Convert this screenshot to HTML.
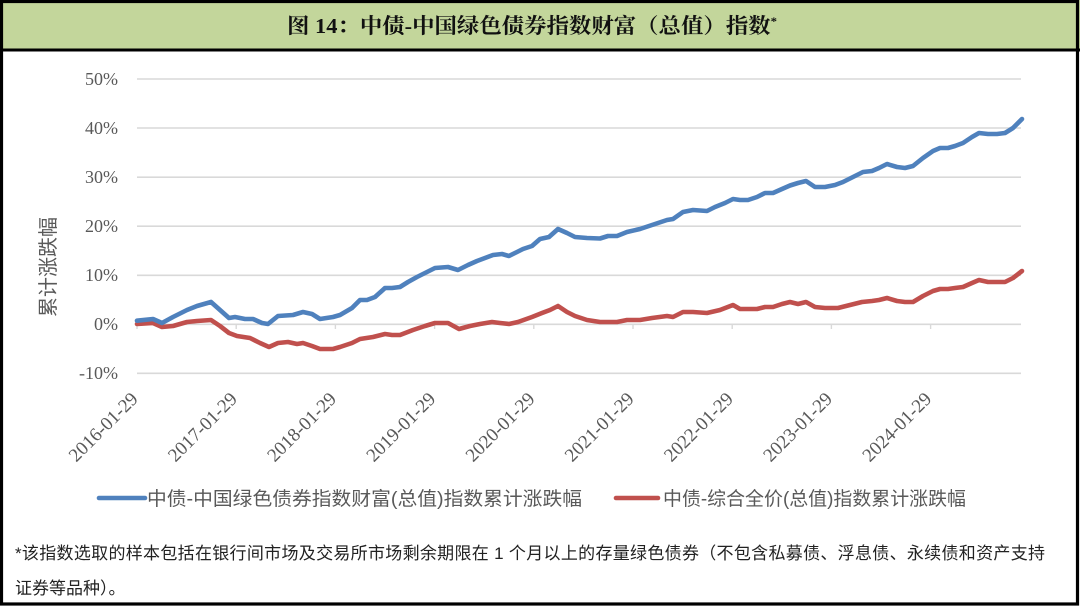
<!DOCTYPE html>
<html>
<head>
<meta charset="utf-8">
<style>
  html,body{margin:0;padding:0;background:#fff;}
  svg{display:block;}
</style>
</head>
<body>
<svg width="1080" height="606" viewBox="0 0 1080 606" xmlns="http://www.w3.org/2000/svg">
  <!-- background -->
  <rect x="0" y="0" width="1080" height="606" fill="#ffffff"/>
  <!-- title band -->
  <rect x="0" y="0" width="1080" height="50" fill="#c3d69b"/>
  <line x1="0" y1="50" x2="1080" y2="50" stroke="#000" stroke-width="3"/>
  <!-- outer border -->
  <rect x="1.5" y="1.5" width="1076" height="602.5" fill="none" stroke="#000" stroke-width="3.2"/>

  <!-- title -->
  <text x="287" y="33" textLength="490" lengthAdjust="spacingAndGlyphs" font-family="'Liberation Serif','Noto Serif CJK SC',serif" font-size="21" font-weight="bold" fill="#111">图 14：中债-中国绿色债券指数财富（总值）指数<tspan font-size="12" dy="-8">*</tspan></text>

  <!-- gridlines -->
  <g stroke="#d9d9d9" stroke-width="1.6">
    <line x1="137" y1="79" x2="1021" y2="79"/>
    <line x1="137" y1="128" x2="1021" y2="128"/>
    <line x1="137" y1="177.2" x2="1021" y2="177.2"/>
    <line x1="137" y1="226.2" x2="1021" y2="226.2"/>
    <line x1="137" y1="275.3" x2="1021" y2="275.3"/>
    <line x1="137" y1="324.3" x2="1021" y2="324.3"/>
    <line x1="137" y1="373.3" x2="1021" y2="373.3"/>
  </g>
  <!-- tick marks -->
  <g stroke="#d9d9d9" stroke-width="1.4">
    <line x1="137" y1="324" x2="137" y2="329"/>
    <line x1="236.2" y1="324" x2="236.2" y2="329"/>
    <line x1="335.4" y1="324" x2="335.4" y2="329"/>
    <line x1="434.6" y1="324" x2="434.6" y2="329"/>
    <line x1="533.8" y1="324" x2="533.8" y2="329"/>
    <line x1="633" y1="324" x2="633" y2="329"/>
    <line x1="732.2" y1="324" x2="732.2" y2="329"/>
    <line x1="831.4" y1="324" x2="831.4" y2="329"/>
    <line x1="930.6" y1="324" x2="930.6" y2="329"/>
  </g>

  <!-- y tick labels -->
  <g font-family="'Liberation Serif',serif" font-size="18" fill="#595959" text-anchor="end">
    <text x="118" y="85">50%</text>
    <text x="118" y="134">40%</text>
    <text x="118" y="183">30%</text>
    <text x="118" y="232">20%</text>
    <text x="118" y="281">10%</text>
    <text x="118" y="330">0%</text>
    <text x="118" y="379">-10%</text>
  </g>

  <!-- y axis title -->
  <text transform="translate(55,267) rotate(-90)" text-anchor="middle" font-family="'Liberation Sans','Noto Sans CJK SC',sans-serif" font-size="20" fill="#595959">累计涨跌幅</text>

  <!-- x tick labels -->
  <g font-family="'Liberation Serif',serif" font-size="19" fill="#595959" text-anchor="end">
    <text x="139" y="400" transform="rotate(-45 139 400)">2016-01-29</text>
    <text x="238.2" y="400" transform="rotate(-45 238.2 400)">2017-01-29</text>
    <text x="337.4" y="400" transform="rotate(-45 337.4 400)">2018-01-29</text>
    <text x="436.6" y="400" transform="rotate(-45 436.6 400)">2019-01-29</text>
    <text x="535.8" y="400" transform="rotate(-45 535.8 400)">2020-01-29</text>
    <text x="635" y="400" transform="rotate(-45 635 400)">2021-01-29</text>
    <text x="734.2" y="400" transform="rotate(-45 734.2 400)">2022-01-29</text>
    <text x="833.4" y="400" transform="rotate(-45 833.4 400)">2023-01-29</text>
    <text x="932.6" y="400" transform="rotate(-45 932.6 400)">2024-01-29</text>
  </g>

  <!-- red series -->
  <polyline fill="none" stroke="#c0504d" stroke-width="4.6" stroke-linejoin="round" stroke-linecap="round"
    points="137,324 153,323 162,327 173,326 187,322 197,321 211,320 220,326 229,333 237,336 250,338 260,343 269,347 278,343 288,342 297,344 303,343 312,346 320,349 333,349 340,347 352,343 360,339 373,337 385,334 392,335 400,335 413,330 425,326 435,323 448,323 459,329 470,326 480,324 492,322 500,323 509,324 518,322 532,317 542,313 550,310 558,306 567,312 575,316 587,320 600,322 608,322 617,322 627,320 640,320 652,318 667,316 673,317 683,312 693,312 707,313 720,310 733,305 740,309 748,309 757,309 765,307 773,307 782,304 790,302 798,304 806,302 815,307 825,308 838,308 850,305 862,302 872,301 879,300 887,298 897,301 905,302 913,302 923,296 933,291 940,289 948,289 955,288 963,287 972,283 979,280 988,282 997,282 1005,282 1013,278 1022,271"/>

  <!-- blue series -->
  <polyline fill="none" stroke="#4f81bd" stroke-width="4.6" stroke-linejoin="round" stroke-linecap="round"
    points="137,320.7 153,319 162,323 173,317 187,310 197,306 211,302 220,310 229,318 235,317 245,319 253,319 262,323 268,324 278,316 293,315 303,312 312,314 320,319 333,317 340,315 352,308 360,300 367,300 375,297 385,288 392,288 400,287 408,282 417,277 425,273 435,268 448,267 458,270 468,265 477,261 485,258 493,255 502,254 509,256 517,252 523,249 532,246 540,239 549,237 558,229 567,233 575,237 587,238 600,238.5 608,236 617,236 627,232 640,229 652,225 667,220 673,219 683,212 693,210 707,211 715,207 725,203 733,199 740,200 748,200 757,197 765,193 773,193 782,189 790,185.5 798,183 806,181 815,187 825,187 835,185 843,182 853,177 863,172 872,171 879,168 887,164 897,167 905,168 913,166 923,158 933,151 940,148 948,148 955,146 963,143 972,137 979,133 988,134 997,134 1005,133 1013,128 1022,119"/>

  <!-- legend -->
  <line x1="99" y1="498" x2="145" y2="498" stroke="#4f81bd" stroke-width="4.6" stroke-linecap="round"/>
  <text x="147" y="505" textLength="435" lengthAdjust="spacingAndGlyphs" font-family="'Liberation Sans','Noto Sans CJK SC',sans-serif" font-size="19" fill="#595959">中债-中国绿色债券指数财富(总值)指数累计涨跌幅</text>
  <line x1="616" y1="498" x2="658" y2="498" stroke="#c0504d" stroke-width="4.6" stroke-linecap="round"/>
  <text x="663" y="505" textLength="303" lengthAdjust="spacingAndGlyphs" font-family="'Liberation Sans','Noto Sans CJK SC',sans-serif" font-size="19" fill="#595959">中债-综合全价(总值)指数累计涨跌幅</text>

  <!-- footnote -->
  <text x="15" y="559" textLength="1030" lengthAdjust="spacing" font-family="'Liberation Sans','Noto Sans CJK SC',sans-serif" font-size="17" fill="#222">*该指数选取的样本包括在银行间市场及交易所市场剩余期限在 1 个月以上的存量绿色债券（不包含私募债、浮息债、永续债和资产支持</text>
  <text x="15" y="594" font-family="'Liberation Sans','Noto Sans CJK SC',sans-serif" font-size="17" fill="#222">证券等品种）。</text>
</svg>
</body>
</html>
